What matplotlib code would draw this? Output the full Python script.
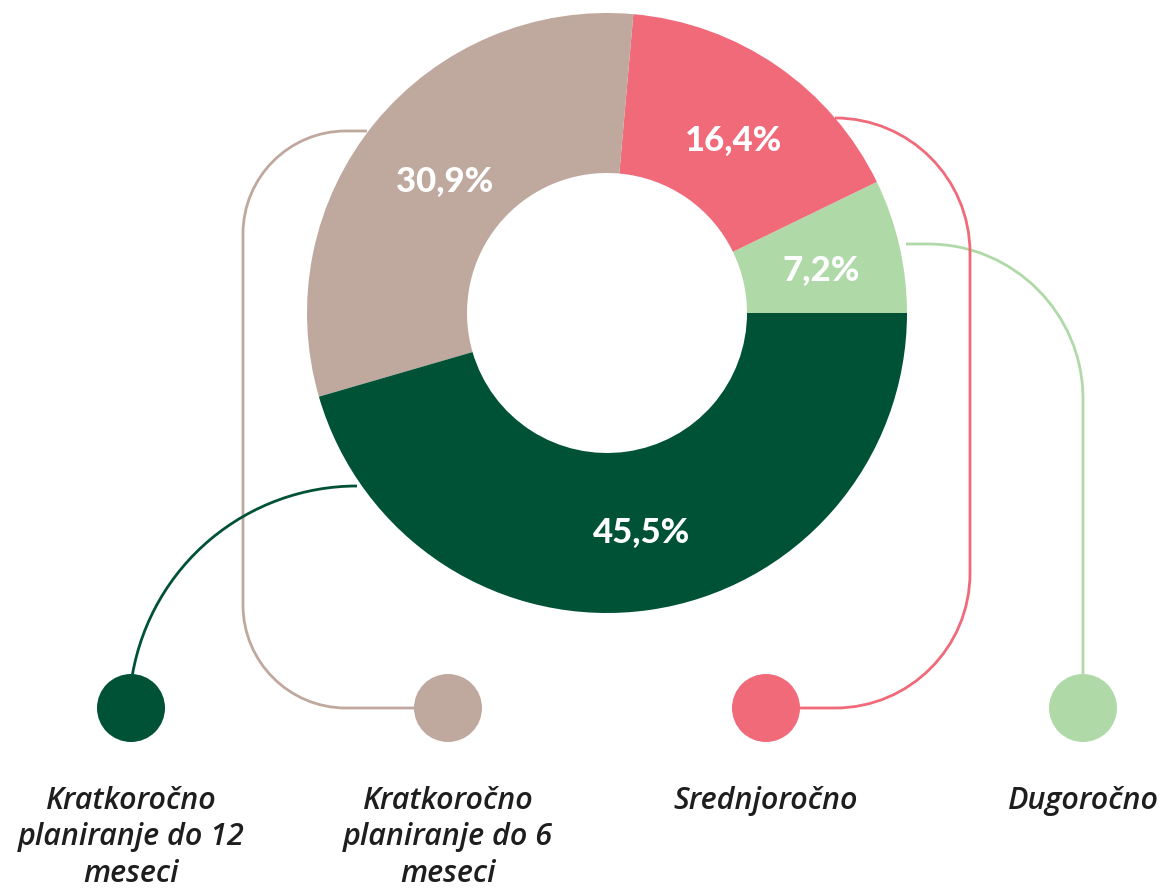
import matplotlib
matplotlib.use("Agg")
import matplotlib.pyplot as plt
from matplotlib.path import Path
from matplotlib.patches import PathPatch, Arc, Circle

# data (pie goes clockwise from 3 o'clock on screen)
categories = ["Dugoročno", "Srednjoročno",
              "Kratkoročno\nplaniranje do 6\nmeseci",
              "Kratkoročno\nplaniranje do 12\nmeseci"]
shares = [7.2, 16.4, 30.9, 45.5]
colors = ["#B0D9A8", "#F06A7A", "#BFA89E", "#005236"]

# legend order, left to right
legend_order = [3, 2, 1, 0]

W, H = 1170, 892
CX, CY = 607, 313
R_OUT, R_IN = 300, 140
DOT_Y, DOT_R = 708, 34
DOT_X = [131, 448, 766, 1083]

fig = plt.figure(figsize=(W / 100, H / 100), dpi=100)
ax = fig.add_axes([0, 0, 1, 1])

wedges, _, autotexts = ax.pie(
    shares,
    colors=colors,
    center=(CX, CY),
    radius=R_OUT,
    startangle=0,
    counterclock=False,
    wedgeprops={"width": R_OUT - R_IN, "linewidth": 0},
    autopct=lambda p: f"{p:.1f}%".replace(".", ","),
    pctdistance=0.72,
    textprops={"color": "white", "fontsize": 25, "fontweight": "black", "family": "Lato"},
    frame=True,
)
# pct labels sit a touch lower in the original
for t in autotexts:
    x, y = t.get_position()
    t.set_position((x + 4, y + 6))

ax.set_xlim(0, W)
ax.set_ylim(H, 0)
ax.set_aspect("equal")
ax.axis("off")


def rounded(points, radius):
    # polyline with circular-ish corners (cubic bezier)
    k = 0.5523
    verts = [points[0]]
    codes = [Path.MOVETO]
    for i in range(1, len(points) - 1):
        p0, p1, p2 = points[i - 1], points[i], points[i + 1]
        d1 = ((p1[0] - p0[0]), (p1[1] - p0[1]))
        d2 = ((p2[0] - p1[0]), (p2[1] - p1[1]))
        l1 = (d1[0] ** 2 + d1[1] ** 2) ** 0.5
        l2 = (d2[0] ** 2 + d2[1] ** 2) ** 0.5
        u1 = (d1[0] / l1, d1[1] / l1)
        u2 = (d2[0] / l2, d2[1] / l2)
        a = (p1[0] - u1[0] * radius, p1[1] - u1[1] * radius)
        b = (p1[0] + u2[0] * radius, p1[1] + u2[1] * radius)
        verts += [a,
                  (a[0] + u1[0] * radius * k, a[1] + u1[1] * radius * k),
                  (b[0] - u2[0] * radius * k, b[1] - u2[1] * radius * k),
                  b]
        codes += [Path.LINETO, Path.CURVE4, Path.CURVE4, Path.CURVE4]
    verts.append(points[-1])
    codes.append(Path.LINETO)
    return Path(verts, codes)


lw = 2.0
# light green connector
ax.add_patch(PathPatch(rounded([(906, 244), (1083, 244), (1083, DOT_Y)], 155),
                       fill=False, ec=colors[0], lw=lw, zorder=0.5))
# pink connector
ax.add_patch(PathPatch(rounded([(835, 118), (970, 118), (970, DOT_Y), (DOT_X[2], DOT_Y)], 135),
                       fill=False, ec=colors[1], lw=lw, zorder=0.5))
# tan connector
ax.add_patch(PathPatch(rounded([(367, 131), (243, 131), (243, DOT_Y), (DOT_X[1], DOT_Y)], 103),
                       fill=False, ec=colors[2], lw=lw, zorder=0.5))
# dark green connector
ax.add_patch(Arc((357, 714), 456, 456, theta1=190, theta2=270,
                 ec=colors[3], lw=lw, zorder=0.5))

for x, idx in zip(DOT_X, legend_order):
    ax.add_patch(Circle((x, DOT_Y), DOT_R, fc=colors[idx], ec="none", zorder=3))
    ax.text(x, 786, categories[idx], ha="center", va="top", fontsize=22,
            style="italic", fontweight="semibold", family="Open Sans",
            color="#1E1E1E", linespacing=1.28)

fig.savefig("out.png", dpi=100)
